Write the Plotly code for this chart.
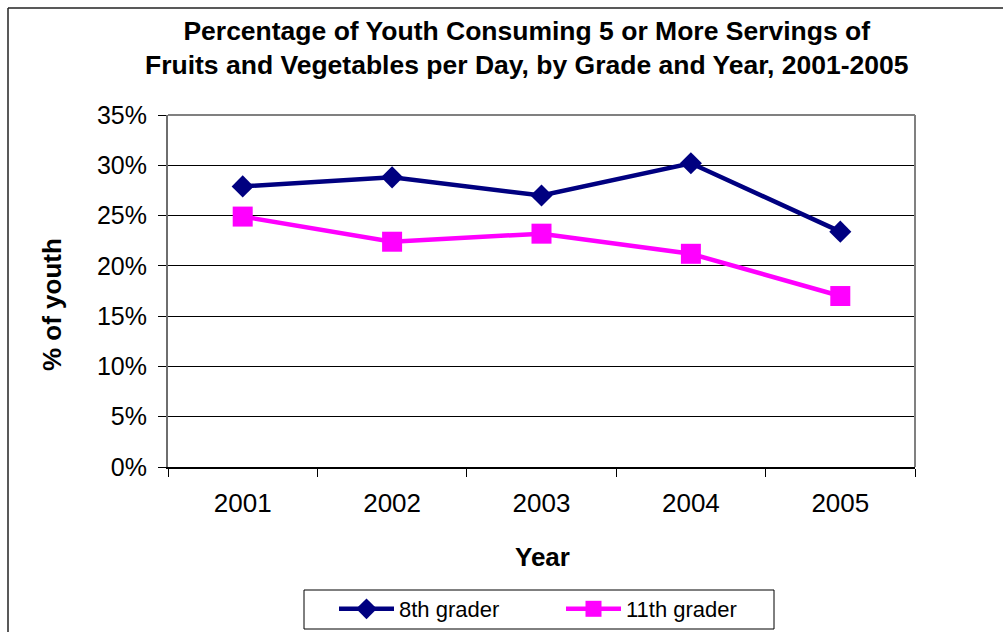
import plotly.graph_objects as go

# Survey years and percentage of youth eating 5+ servings per day
years = ["2001", "2002", "2003", "2004", "2005"]
grade8 = [27.9, 28.8, 27.0, 30.2, 23.4]
grade11 = [24.9, 22.4, 23.2, 21.2, 17.0]
y_ticks = [0, 5, 10, 15, 20, 25, 30, 35]
y_labels = [f"{v}%" for v in y_ticks]

FONT = "Arial, 'Liberation Sans', sans-serif"
W, H = 1003, 632
L, R, T, B = 168, 915, 115, 467  # plot area in pixels


def px_x(p):
    return (p - L) / (R - L)


def px_y(p):
    return (B - p) / (B - T)


fig = go.Figure()
fig.add_trace(go.Scatter(
    x=years, y=grade8, name="8th grader", mode="lines+markers",
    line=dict(color="#000080", width=4.5),
    marker=dict(symbol="diamond", size=17, color="#000080"),
))
fig.add_trace(go.Scatter(
    x=years, y=grade11, name="11th grader", mode="lines+markers",
    line=dict(color="#FF00FF", width=4.5),
    marker=dict(symbol="square", size=20, color="#FF00FF"),
))

fig.update_layout(
    width=W, height=H,
    margin=dict(l=L, r=W - R, t=T, b=H - B, pad=0, autoexpand=False),
    paper_bgcolor="white", plot_bgcolor="white",
    font=dict(family=FONT, color="black"),
    showlegend=True,
    legend=dict(
        orientation="h", x=px_x(334), xanchor="left",
        y=px_y(588), yanchor="top",
        borderwidth=0, bgcolor="rgba(0,0,0,0)",
        font=dict(size=22, family=FONT), itemwidth=55,
        entrywidth=157, entrywidthmode="pixels",
        traceorder="normal",
    ),
    xaxis=dict(
        type="category", range=[-0.5, 4.5], tickson="boundaries",
        ticks="outside", ticklen=8, tickcolor="black", tickwidth=1,
        showline=True, linecolor="black", linewidth=2,
        showgrid=False, tickfont=dict(size=26), ticklabelstandoff=12,
    ),
    yaxis=dict(
        range=[0, 35], tickvals=y_ticks, ticktext=y_labels,
        ticks="outside", ticklen=8, tickcolor="black", tickwidth=1,
        showline=True, linecolor="#6e6e6e", linewidth=2,
        showgrid=True, gridcolor="black", gridwidth=1,
        zeroline=False, tickfont=dict(size=25), ticklabelstandoff=6,
    ),
    annotations=[
        dict(text="<b>Percentage of Youth Consuming 5 or More Servings of<br>"
                  "Fruits and Vegetables per Day, by Grade and Year, 2001-2005</b>",
             xref="paper", yref="paper", x=px_x(526), y=px_y(48),
             xanchor="center", yanchor="middle", showarrow=False,
             font=dict(size=26.5, family=FONT)),
        dict(text="<b>% of youth</b>", textangle=-90,
             xref="paper", yref="paper", x=px_x(52), y=px_y(305),
             xanchor="center", yanchor="middle", showarrow=False,
             font=dict(size=26, family=FONT)),
        dict(text="<b>Year</b>",
             xref="paper", yref="paper", x=px_x(542), y=px_y(557),
             xanchor="center", yanchor="middle", showarrow=False,
             font=dict(size=26, family=FONT)),
    ],
    shapes=[
        # grey frame on top and right of the plot area
        dict(type="line", xref="paper", yref="paper", x0=0, x1=1, y0=1, y1=1,
             line=dict(color="#808080", width=2)),
        dict(type="line", xref="paper", yref="paper", x0=1, x1=1, y0=0, y1=1,
             line=dict(color="#808080", width=2)),
        # legend box
        dict(type="rect", xref="paper", yref="paper",
             x0=px_x(304), x1=px_x(774), y0=px_y(629), y1=px_y(590),
             line=dict(color="black", width=1)),
        # outer chart border (left and top edges)
        dict(type="line", xref="paper", yref="paper",
             x0=px_x(8), x1=px_x(8), y0=px_y(8), y1=px_y(640),
             line=dict(color="#222222", width=1.5)),
        dict(type="line", xref="paper", yref="paper",
             x0=px_x(8), x1=px_x(1010), y0=px_y(8), y1=px_y(8),
             line=dict(color="#222222", width=1.5)),
    ],
)

fig.write_html("out.html")
